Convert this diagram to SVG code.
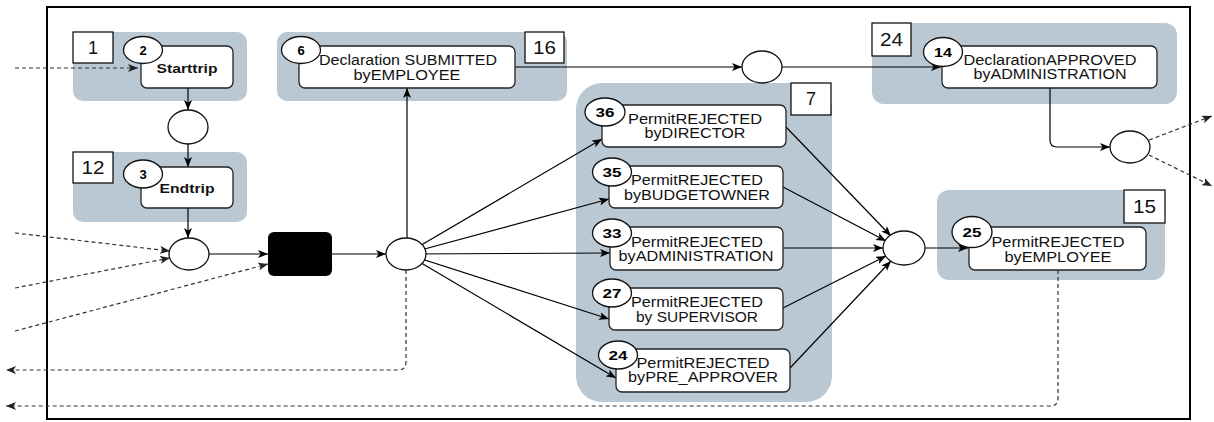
<svg xmlns="http://www.w3.org/2000/svg" width="1214" height="422" viewBox="0 0 1214 422">
  <defs>
    <marker id="arr" viewBox="0 0 10 8" refX="10" refY="4" markerWidth="10" markerHeight="8" markerUnits="userSpaceOnUse" orient="auto">
      <path d="M0,0 L10,4 L0,8 L2.5,4 Z" fill="#000"/>
    </marker>
    <marker id="arrd" viewBox="0 0 10 8" refX="10" refY="4" markerWidth="10" markerHeight="8" markerUnits="userSpaceOnUse" orient="auto">
      <path d="M0,0 L10,4 L0,8 L2.5,4 Z" fill="#222"/>
    </marker>
    <style>
      .grp { fill: #bac8d3; }
      .tag { fill: #fff; stroke: #000; stroke-width: 1.2; }
      .tagt { font-family: "Liberation Sans", Arial, sans-serif; font-size: 18px; fill: #111; text-anchor: middle; }
      .box { fill: #fff; stroke: #222; stroke-width: 1.3; }
      .badge { fill: #fff; stroke: #111; stroke-width: 1.3; }
      .num { font-family: "Liberation Sans", Arial, sans-serif; font-size: 13px; font-weight: bold; fill: #000; text-anchor: middle; }
      .lbl { font-family: "Liberation Sans", Arial, sans-serif; font-size: 14px; fill: #111; text-anchor: middle; }
      .lblb { font-family: "Liberation Sans", Arial, sans-serif; font-size: 13px; font-weight: bold; fill: #111; text-anchor: middle; }
      .place { fill: #fff; stroke: #111; stroke-width: 1.3; }
      .edge { fill: none; stroke: #000; stroke-width: 1.2; marker-end: url(#arr); }
      .dash { fill: none; stroke: #333; stroke-width: 1.2; stroke-dasharray: 4 3; marker-end: url(#arrd); }
    </style>
  </defs>

  <rect width="1214" height="422" fill="#fff"/>

  <!-- outer frame -->
  <rect x="47" y="7" width="1143" height="412" fill="none" stroke="#000" stroke-width="2"/>

  <!-- grey group containers -->
  <g id="containers">
    <rect class="grp" x="73" y="32" width="174" height="69" rx="10"/>
    <rect class="grp" x="73" y="152" width="174" height="70" rx="10"/>
    <rect class="grp" x="277" y="32" width="290" height="69" rx="10"/>
    <rect class="grp" x="872" y="23" width="305" height="81" rx="12"/>
    <rect class="grp" x="576" y="83" width="256" height="319" rx="26"/>
    <rect class="grp" x="937" y="190" width="228" height="90" rx="12"/>
  </g>

  <!-- connectors -->
  <g id="connectors">
    <path class="dash" d="M15,68 L138,68"/>
    <path class="edge" d="M188,88 L188,110"/>
    <path class="edge" d="M188,144 L188,167"/>
    <path class="edge" d="M188,208 L188,238"/>
    <path class="dash" d="M15,233 L170,251"/>
    <path class="dash" d="M15,288 L170,258"/>
    <path class="dash" d="M15,331 L268,264"/>
    <path class="edge" d="M209,254 L268,254"/>
    <path class="edge" d="M332,254 L386,254"/>
    <path class="edge" d="M407,238 L407,88"/>
    <path class="dash" d="M406,270 L406,362 Q406,370 398,370 L6,370"/>
    <path class="edge" d="M515,67 L742,67"/>
    <path class="edge" d="M782,67 L941,67"/>
    <path class="edge" d="M406,254 L602,139"/>
    <path class="edge" d="M406,254 L609,199"/>
    <path class="edge" d="M406,254 L610,253"/>
    <path class="edge" d="M406,254 L609,319"/>
    <path class="edge" d="M406,254 L616,378"/>
    <path class="edge" d="M786,127 L891,236"/>
    <path class="edge" d="M783,187 L886,241"/>
    <path class="edge" d="M783,248 L883,248"/>
    <path class="edge" d="M783,308 L886,256"/>
    <path class="edge" d="M790,368 L891,261"/>
    <path class="edge" d="M925,248 L968,248"/>
    <path class="dash" d="M1058,270 L1058,398 Q1058,406 1050,406 L6,406"/>
    <path class="edge" d="M1050,88 L1050,140 Q1050,147 1057,147 L1110,147"/>
    <path class="dash" d="M1149,140 L1212,116"/>
    <path class="dash" d="M1149,155 L1212,186"/>
  </g>

  <!-- places -->
  <g id="p-start"><ellipse class="place" cx="188" cy="127" rx="20" ry="17"/></g>
  <g id="p-join"><ellipse class="place" cx="189" cy="254" rx="20" ry="16"/></g>
  <g id="p-fork"><ellipse class="place" cx="406" cy="254" rx="20" ry="16"/></g>
  <g id="p-decl"><ellipse class="place" cx="762" cy="67" rx="20" ry="16"/></g>
  <g id="p-merge"><ellipse class="place" cx="904" cy="248" rx="21" ry="17"/></g>
  <g id="p-end"><ellipse class="place" cx="1130" cy="147" rx="20" ry="16"/></g>

  <!-- silent transition -->
  <g id="t-silent"><rect x="268" y="232" width="64" height="44" rx="6" fill="#000"/></g>

  <!-- group tags -->
  <g id="tag-1"><rect class="tag" x="73" y="32" width="40" height="31"/><text class="tagt" x="93" y="54">1</text></g>
  <g id="tag-12"><rect class="tag" x="73" y="152" width="40" height="31"/><text class="tagt" x="93" y="174" textLength="23" lengthAdjust="spacingAndGlyphs">12</text></g>
  <g id="tag-16"><rect class="tag" x="525" y="32" width="39" height="31"/><text class="tagt" x="544.5" y="54" textLength="23" lengthAdjust="spacingAndGlyphs">16</text></g>
  <g id="tag-24"><rect class="tag" x="872" y="23" width="39" height="33"/><text class="tagt" x="891.5" y="46" textLength="23" lengthAdjust="spacingAndGlyphs">24</text></g>
  <g id="tag-7"><rect class="tag" x="791" y="83" width="40" height="32"/><text class="tagt" x="811" y="105">7</text></g>
  <g id="tag-15"><rect class="tag" x="1124" y="190" width="41" height="33"/><text class="tagt" x="1144.5" y="213" textLength="23" lengthAdjust="spacingAndGlyphs">15</text></g>

  <!-- activities -->
  <g id="n2">
    <rect class="box" x="141" y="46" width="92" height="42" rx="6"/>
    <ellipse class="badge" cx="143" cy="50" rx="19.5" ry="13.5"/>
    <text class="num" x="143" y="55">2</text>
    <text class="lblb" x="187" y="73" textLength="61" lengthAdjust="spacingAndGlyphs">Starttrip</text>
  </g>
  <g id="n3">
    <rect class="box" x="141" y="167" width="92" height="41" rx="6"/>
    <ellipse class="badge" cx="143" cy="174" rx="19.5" ry="14"/>
    <text class="num" x="143" y="179">3</text>
    <text class="lblb" x="187" y="193" textLength="55" lengthAdjust="spacingAndGlyphs">Endtrip</text>
  </g>
  <g id="n6">
    <rect class="box" x="299" y="46" width="216" height="42" rx="6"/>
    <ellipse class="badge" cx="301" cy="50" rx="19.5" ry="13.5"/>
    <text class="num" x="301" y="55">6</text>
    <text class="lbl" x="408" y="65" textLength="178" lengthAdjust="spacingAndGlyphs">Declaration SUBMITTED</text>
    <text class="lbl" x="407" y="80" textLength="107" lengthAdjust="spacingAndGlyphs">byEMPLOYEE</text>
  </g>
  <g id="n14">
    <rect class="box" x="942" y="46" width="215" height="42" rx="6"/>
    <ellipse class="badge" cx="943" cy="52" rx="19.5" ry="14.5"/>
    <text class="num" x="943" y="57" textLength="18" lengthAdjust="spacingAndGlyphs">14</text>
    <text class="lbl" x="1050" y="65" textLength="173" lengthAdjust="spacingAndGlyphs">DeclarationAPPROVED</text>
    <text class="lbl" x="1050" y="79" textLength="153" lengthAdjust="spacingAndGlyphs">byADMINISTRATION</text>
  </g>
  <g id="n36">
    <rect class="box" x="602" y="105" width="184" height="42" rx="6"/>
    <ellipse class="badge" cx="605" cy="112" rx="20" ry="14"/>
    <text class="num" x="605" y="117" textLength="19" lengthAdjust="spacingAndGlyphs">36</text>
    <text class="lbl" x="695" y="124" textLength="134" lengthAdjust="spacingAndGlyphs">PermitREJECTED</text>
    <text class="lbl" x="695" y="138" textLength="101" lengthAdjust="spacingAndGlyphs">byDIRECTOR</text>
  </g>
  <g id="n35">
    <rect class="box" x="609" y="166" width="174" height="42" rx="6"/>
    <ellipse class="badge" cx="612" cy="172" rx="19.5" ry="14"/>
    <text class="num" x="612" y="177" textLength="19" lengthAdjust="spacingAndGlyphs">35</text>
    <text class="lbl" x="697" y="185" textLength="132" lengthAdjust="spacingAndGlyphs">PermitREJECTED</text>
    <text class="lbl" x="697" y="200" textLength="146" lengthAdjust="spacingAndGlyphs">byBUDGETOWNER</text>
  </g>
  <g id="n33">
    <rect class="box" x="610" y="227" width="173" height="43" rx="6"/>
    <ellipse class="badge" cx="612" cy="233" rx="19.5" ry="14"/>
    <text class="num" x="612" y="238" textLength="19" lengthAdjust="spacingAndGlyphs">33</text>
    <text class="lbl" x="697" y="247" textLength="132" lengthAdjust="spacingAndGlyphs">PermitREJECTED</text>
    <text class="lbl" x="696" y="261" textLength="155" lengthAdjust="spacingAndGlyphs">byADMINISTRATION</text>
  </g>
  <g id="n27">
    <rect class="box" x="609" y="288" width="174" height="42" rx="6"/>
    <ellipse class="badge" cx="612" cy="293" rx="19.5" ry="14"/>
    <text class="num" x="612" y="298" textLength="19" lengthAdjust="spacingAndGlyphs">27</text>
    <text class="lbl" x="697" y="307" textLength="132" lengthAdjust="spacingAndGlyphs">PermitREJECTED</text>
    <text class="lbl" x="697" y="322" textLength="122" lengthAdjust="spacingAndGlyphs">by SUPERVISOR</text>
  </g>
  <g id="n24">
    <rect class="box" x="616" y="349" width="174" height="43" rx="6"/>
    <ellipse class="badge" cx="618" cy="355" rx="19.5" ry="14"/>
    <text class="num" x="618" y="360" textLength="19" lengthAdjust="spacingAndGlyphs">24</text>
    <text class="lbl" x="703" y="368" textLength="133" lengthAdjust="spacingAndGlyphs">PermitREJECTED</text>
    <text class="lbl" x="703" y="382" textLength="150" lengthAdjust="spacingAndGlyphs">byPRE_APPROVER</text>
  </g>
  <g id="n25">
    <rect class="box" x="969" y="227" width="177" height="43" rx="6"/>
    <ellipse class="badge" cx="972" cy="232" rx="20" ry="15.5"/>
    <text class="num" x="972" y="237" textLength="19" lengthAdjust="spacingAndGlyphs">25</text>
    <text class="lbl" x="1058" y="247" textLength="133" lengthAdjust="spacingAndGlyphs">PermitREJECTED</text>
    <text class="lbl" x="1058" y="262" textLength="107" lengthAdjust="spacingAndGlyphs">byEMPLOYEE</text>
  </g>
</svg>
